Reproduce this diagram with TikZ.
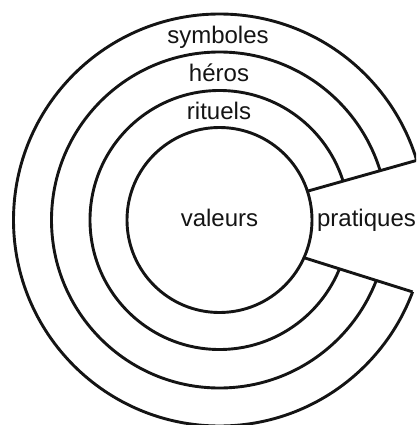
\documentclass[tikz,border=0pt]{standalone}
\usepackage{fontspec}
\setmainfont{Liberation Sans}
\usetikzlibrary{intersections}
\begin{document}
\begin{tikzpicture}[x=1pt,y=-1pt,
  ring/.style={line width=2.9pt,draw=black!92},
  lbl/.style={anchor=base,inner sep=0pt,font=\fontsize{24}{28}\selectfont,text=black!92}]
\useasboundingbox (0,0) rectangle (416,425);
\clip (0,0) rectangle (416,425);
\coordinate (c) at (219.5,220);
% wedge guide lines
\path[name path=up] (190,224.3) -- (440,153.8);
\path[name path=low] (190,221.8) -- (440,300.5);
\path[name path=innerc] (c) circle[radius=92.5pt];
\path[name path=outerc] (c) circle[radius=206pt];
\path[name intersections={of=up and innerc,by=ui}];
\path[name intersections={of=up and outerc,by=uo}];
\path[name intersections={of=low and innerc,by=li}];
\path[name intersections={of=low and outerc,by=lo}];
\begin{scope}[even odd rule]
  \clip (-10,-10) rectangle (426,435)
     (190,224.3) -- (440,153.8) -- (440,300.5) -- (190,221.8) -- cycle;
  \draw[ring] (c) circle[radius=206pt];
  \draw[ring] (c) circle[radius=168pt];
  \draw[ring] (c) circle[radius=129.5pt];
\end{scope}
\draw[ring] (c) circle[radius=92.5pt];
\draw[ring] (ui) -- (uo);
\draw[ring] (li) -- (lo);
\node[lbl] (symb) at (218,44) {symboles};
\node[lbl] (hero) at (219,81.5) {héros};
\node[lbl] (ritu) at (219,119.3) {rituels};
\node[lbl] (vale) at (219.5,226) {valeurs};
\node[lbl] (prat) at (366.5,226.7) {pratiques};
\end{tikzpicture}
\end{document}
